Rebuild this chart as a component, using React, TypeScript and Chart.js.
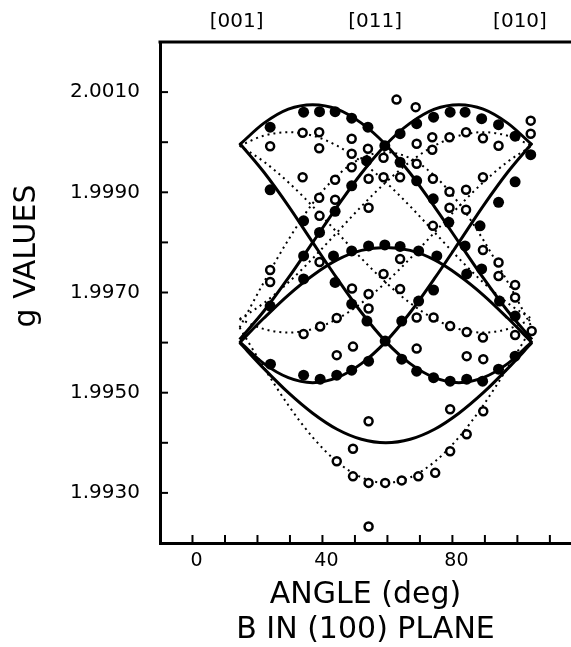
import React, { useEffect, useRef } from 'react';
import { Chart, registerables } from 'chart.js';
Chart.register(...registerables);

// ---- data ----
const angleGrid = [14.5, 22, 29.5, 37, 44.5, 52, 59.5, 67, 74.5, 82, 89.5, 97, 104.5];

// solid curves (g values on angleGrid)
const solidA = [1.99995, 2.00038, 2.00066, 2.00075, 2.00066, 2.00038, 1.99995, 1.99938, 1.99871, 1.998, 1.99729, 1.99663, 1.99606];
const solidB = [1.99606, 1.99663, 1.99729, 1.998, 1.99871, 1.99938, 1.99995, 2.00038, 2.00066, 2.00075, 2.00066, 2.00038, 1.99995];
const solidC = [1.99602, 1.99558, 1.9953, 1.9952, 1.9953, 1.99558, 1.99602, 1.9966, 1.99728, 1.998, 1.99873, 1.9994, 1.99998];
const solidD = [1.99998, 1.9994, 1.99873, 1.998, 1.99728, 1.9966, 1.99602, 1.99558, 1.9953, 1.9952, 1.9953, 1.99558, 1.99602];
const solidE = [1.996, 1.99649, 1.99695, 1.99734, 1.99765, 1.99784, 1.9979, 1.99784, 1.99765, 1.99734, 1.99695, 1.99649, 1.996];
const solidF = [1.996, 1.99548, 1.995, 1.99459, 1.99427, 1.99407, 1.994, 1.99407, 1.99427, 1.99459, 1.995, 1.99548, 1.996];

// dotted curves
const dottedA = [1.99993, 2.00013, 2.0002, 2.00013, 1.99993, 1.99961, 1.9992, 1.99872, 1.9982, 1.99768, 1.9972, 1.99679, 1.99647];
const dottedB = [1.99647, 1.99679, 1.9972, 1.99768, 1.9982, 1.99872, 1.9992, 1.99961, 1.99993, 2.00013, 2.0002, 2.00013, 1.99993];
const dottedC = [1.99647, 1.99627, 1.9962, 1.99627, 1.99647, 1.99679, 1.9972, 1.99768, 1.9982, 1.99872, 1.9992, 1.99961, 1.99993];
const dottedD = [1.99993, 1.99961, 1.9992, 1.99872, 1.9982, 1.99768, 1.9972, 1.99679, 1.99647, 1.99627, 1.9962, 1.99627, 1.99647];
const dottedE = [1.9963, 1.99721, 1.99805, 1.99878, 1.99933, 1.99968, 1.9998, 1.99968, 1.99933, 1.99878, 1.99805, 1.99721, 1.9963];
const dottedF = [1.9963, 1.9955, 1.99475, 1.99411, 1.99362, 1.99331, 1.9932, 1.99331, 1.99362, 1.99411, 1.99475, 1.9955, 1.9963];

// filled circles (measured)
const filledAngle = [
  23.9, 34.2, 39.1, 43.9, 49, 54, 59.2, 63.9, 69, 74.1, 78.9, 83.9, 89, 94.5, 99.3,
  23.9, 34.2, 39.1, 43.9, 49, 53.6, 63.9, 69, 74.2, 79.3, 83.9, 89, 94.2, 99.3,
  24, 34.2, 39.3, 44.4, 49, 54.2, 59.3, 64.4, 69.6, 74.2, 88.5, 94.2, 99.3, 104.1,
  23.9, 34.2, 43.9, 49, 53.7, 64.4, 69, 74.2, 79.3, 84.4, 89.3, 94.2, 99.3,
  34.2, 43.4, 49, 54.2, 59.2, 63.9, 69.6, 75.2, 84.4,
];
const filledG = [
  2.0003, 2.0006, 2.00061, 2.00061, 2.00048, 2.0003, 1.99993, 1.9996, 1.99923, 1.99887, 1.9984, 1.99793, 1.99747, 1.99683, 1.99653,
  1.99673, 1.99773, 1.9982, 1.99862, 1.99913, 1.99963, 2.00017, 2.00037, 2.0005, 2.0006, 2.0006, 2.00047, 2.00035, 2.00012,
  1.99557, 1.99535, 1.99527, 1.99535, 1.99545, 1.99563, 1.99603, 1.99643, 1.99683, 1.99705, 1.99833, 1.9988, 1.99921, 1.99975,
  1.99905, 1.99843, 1.9972, 1.99677, 1.99643, 1.99567, 1.99543, 1.9953, 1.99523, 1.99527, 1.99523, 1.99547, 1.99573,
  1.99727, 1.99773, 1.99783, 1.99793, 1.99795, 1.99792, 1.99783, 1.99773, 1.99737,
];

// open circles (measured)
const openAngle = [
  23.9, 33.9, 39.0, 39.0, 49.0, 49.0, 54.0, 49.0, 58.8, 33.9, 43.9, 39.0, 43.9, 54.2, 58.8, 54.2, 39.1,
  23.9, 23.9, 39.1, 49.1, 54.2, 34.2, 39.3, 44.4, 44.4, 49.4, 54.2, 54.2, 49.4, 44.4, 49.4, 54.2, 54.2,
  63.9, 58.8, 63.9, 94.2, 94.2, 99.3, 99.3, 69.0, 74.2, 79.3, 84.4, 89.4, 99.3, 104.4, 69.0, 84.4, 89.5,
  79.3, 89.5, 84.4, 79.3, 74.7, 69.5, 64.4, 59.3, 69.0, 73.8, 73.8, 69.0, 63.9, 74.0, 62.8, 68.7,
  79.1, 84.2, 89.4, 94.2, 104.1, 104.1, 74.0, 89.4, 79.1, 84.2, 79.1, 84.2, 89.4,
];
const openG = [
  1.99992, 2.00019, 2.0002, 1.99988, 2.00007, 1.99977, 1.99987, 1.9995, 1.99969, 1.9993, 1.99925, 1.99889, 1.99885, 1.99927, 1.9993, 1.99869, 1.99853,
  1.99745, 1.99721, 1.99761, 1.99708, 1.99697, 1.99617, 1.99632, 1.99649, 1.99575, 1.99592, 1.99668, 1.99443, 1.99388, 1.99363, 1.99333, 1.9932, 1.99233,
  1.99767, 1.99737, 1.99707, 1.9976, 1.99733, 1.99715, 1.9969, 1.9965, 1.9965, 1.99633, 1.99621, 1.9961, 1.99615, 1.99623, 1.99588, 1.99573, 1.99567,
  1.99467, 1.99463, 1.99417, 1.99383, 1.9934, 1.99333, 1.99325, 1.9932, 1.99997, 2.0001, 1.99985, 1.99957, 1.9993, 1.99833, 2.00085, 2.0007,
  2.0001, 2.0002, 2.00008, 1.99993, 2.00043, 2.00017, 1.99927, 1.9993, 1.99901, 1.99905, 1.99869, 1.99865, 1.99785,
];

// axes / labels
const xTickValues = [0, 10, 20, 30, 40, 50, 60, 70, 80, 90, 100, 110];
const xLabeledTicks = [0, 40, 80];
const yTickValues = [1.993, 1.994, 1.995, 1.996, 1.997, 1.998, 1.999, 2.0, 2.001];
const yLabeledTicks = [1.993, 1.995, 1.997, 1.999, 2.001];
const crystalLabels = ['[001]', '[011]', '[010]'];
const crystalAngles = [13.6, 56.2, 100.8];
const xTitleLines = ['ANGLE (deg)', 'B IN (100) PLANE'];
const yTitle = 'g VALUES';

const FONT = '"DejaVu Sans", sans-serif';

export default function App() {
  const ref = useRef<HTMLCanvasElement>(null);
  useEffect(() => {
    const canvas = ref.current!;
    const pts = (xs: number[], ys: number[]) => xs.map((x, i) => ({ x, y: ys[i] }));
    const solid = (ys: number[]) => ({
      data: pts(angleGrid, ys), showLine: true, pointRadius: 0, borderColor: '#000', borderWidth: 3,
      cubicInterpolationMode: 'monotone', order: 3,
    });
    const dotted = (ys: number[]) => ({
      data: pts(angleGrid, ys), showLine: true, pointRadius: 0, borderColor: '#000', borderWidth: 2,
      borderDash: [2, 4], cubicInterpolationMode: 'monotone', order: 4,
    });

    const frame = {
      id: 'frame',
      afterDraw(chart: any) {
        const { ctx, chartArea: ca, scales } = chart;
        const xs = scales.x, ys = scales.y;
        ctx.save();
        ctx.strokeStyle = '#000';
        ctx.lineWidth = 3;
        ctx.beginPath();
        ctx.moveTo(ca.left - 1.5, ca.top);
        ctx.lineTo(ca.right + 2, ca.top);
        ctx.stroke();
        ctx.lineWidth = 2;
        xTickValues.forEach((v) => {
          const px = xs.getPixelForValue(v);
          ctx.beginPath(); ctx.moveTo(px, ca.bottom); ctx.lineTo(px, ca.bottom - 8); ctx.stroke();
        });
        yTickValues.forEach((v) => {
          const py = ys.getPixelForValue(v);
          ctx.beginPath(); ctx.moveTo(ca.left, py); ctx.lineTo(ca.left + 8, py); ctx.stroke();
        });
        ctx.fillStyle = '#000';
        ctx.textAlign = 'center';
        ctx.textBaseline = 'middle';
        ctx.font = `19px ${FONT}`;
        xLabeledTicks.forEach((v) => ctx.fillText(String(v), xs.getPixelForValue(v) + 4, ca.bottom + 18));
        ctx.font = `20px ${FONT}`;
        crystalLabels.forEach((lab, i) => ctx.fillText(lab, xs.getPixelForValue(crystalAngles[i]), 22));
        ctx.font = `30px ${FONT}`;
        const cx = (ca.left + ca.right) / 2;
        ctx.fillText(xTitleLines[0], cx, 595);
        ctx.fillText(xTitleLines[1], cx, 630);
        ctx.translate(27, 256);
        ctx.rotate(-Math.PI / 2);
        ctx.fillText(yTitle, 0, 0);
        ctx.restore();
      },
    };

    const chart = new Chart(canvas, {
      type: 'scatter',
      data: {
        datasets: [
          { data: pts(filledAngle, filledG), pointRadius: 5.5, pointBackgroundColor: '#000', pointBorderColor: '#000', pointBorderWidth: 0, order: 1 },
          { data: pts(openAngle, openG), pointRadius: 4, pointBackgroundColor: '#fff', pointBorderColor: '#000', pointBorderWidth: 2.5, order: 0 },
          solid(solidA), solid(solidB), solid(solidC), solid(solidD), solid(solidE), solid(solidF),
          dotted(dottedA), dotted(dottedB), dotted(dottedC), dotted(dottedD), dotted(dottedE), dotted(dottedF),
        ] as any,
      },
      options: {
        animation: false,
        responsive: false,
        events: [],
        layout: { autoPadding: false, padding: { top: 42, right: 0, left: 0, bottom: 0 } },
        plugins: { legend: { display: false }, tooltip: { enabled: false } },
        scales: {
          x: {
            type: 'linear', min: -10, max: 116.5,
            grid: { display: false, drawTicks: false },
            border: { display: true, width: 3, color: '#000' },
            afterFit: (s: any) => { s.height = 104; },
            ticks: { display: false, stepSize: 10 },
          },
          y: {
            type: 'linear', min: 1.992, max: 2.002,
            grid: { display: false, drawTicks: false },
            border: { display: true, width: 3, color: '#000' },
            afterFit: (s: any) => { s.width = 160; },
            ticks: {
              stepSize: 0.001, autoSkip: false, padding: 20, color: '#000',
              font: { family: FONT, size: 20 },
              callback: (v: any) => (yLabeledTicks.some((t) => Math.abs(t - Number(v)) < 1e-7) ? Number(v).toFixed(4) : ''),
            },
          },
        },
      },
      plugins: [frame],
    } as any);
    return () => chart.destroy();
  }, []);
  return (
    <div style={{ position: 'absolute', left: 0, top: 0, width: 571, height: 647, background: '#fff' }}>
      <canvas ref={ref} width={571} height={647} style={{ display: 'block' }} />
    </div>
  );
}
